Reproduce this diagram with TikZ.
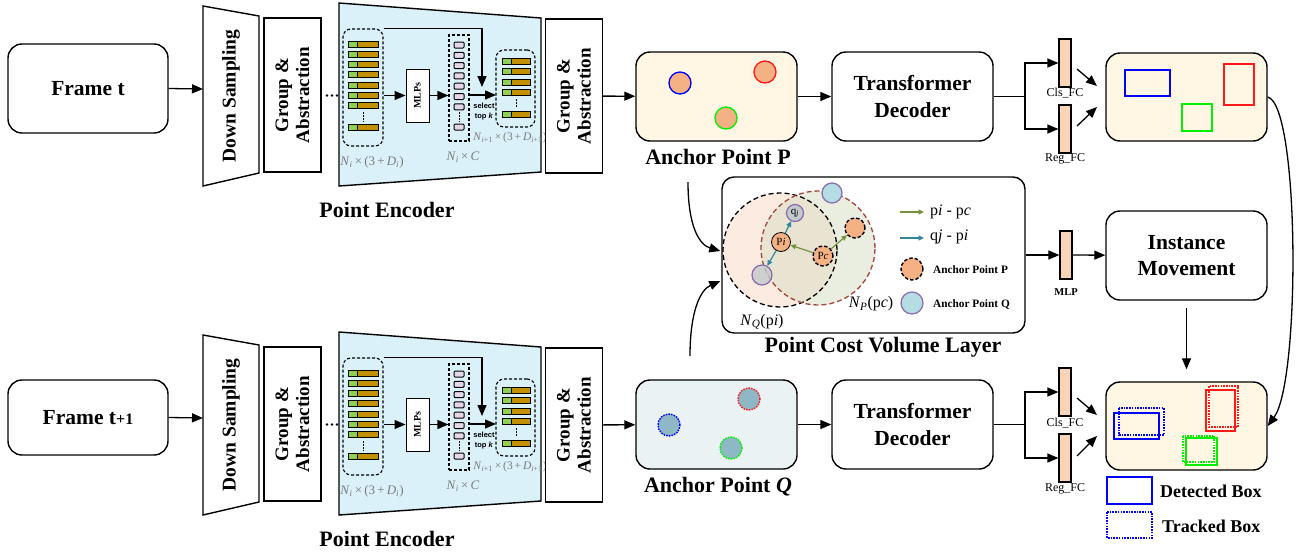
\documentclass[tikz,border=0pt]{standalone}
\usepackage{fontspec}
\setmainfont{Liberation Serif}
\setsansfont{Liberation Sans}
\usetikzlibrary{arrows.meta,calc}

\definecolor{encblue}{HTML}{DAF1FA}
\definecolor{cream}{HTML}{FFF6E3}
\definecolor{orangept}{HTML}{F4B183}
\definecolor{qbox}{HTML}{EAF2F4}
\definecolor{qpt}{HTML}{8EB8C6}
\definecolor{peach}{HTML}{F9D4B6}
\definecolor{barg}{HTML}{8ED150}
\definecolor{bargold}{HTML}{C39100}
\definecolor{pinksq}{HTML}{E4D8E8}
\definecolor{lblgray}{HTML}{7A7A7A}
\definecolor{nqfill}{HTML}{FCEBE0}
\definecolor{npfill}{HTML}{D5DEC4}
\definecolor{darkred}{HTML}{A4453C}
\definecolor{olive}{HTML}{76923C}
\definecolor{tealc}{HTML}{31859C}
\definecolor{purp}{HTML}{8A6AAE}
\definecolor{graypt}{HTML}{C3CACB}
\definecolor{lbluept}{HTML}{B5DDE4}
\definecolor{pureblue}{HTML}{0000FF}
\definecolor{purered}{HTML}{FF1A1A}
\definecolor{puregreen}{HTML}{00F000}

\tikzset{
  arr/.style={-{Triangle[length=11pt,width=9pt]}, line width=1.3pt},
  sarr/.style={-{Triangle[length=5.5pt,width=5pt]}, line width=1.2pt},
  rbox/.style={draw, line width=1.4pt, rounded corners=14pt, align=center, inner sep=0pt,
    font=\bfseries\fontsize{21.5}{27}\selectfont},
  gabox/.style={draw, line width=1.4pt, fill=white, rotate=90, align=center, inner sep=0pt,
    minimum width=154pt, minimum height=57pt, font=\bfseries\fontsize{19}{21}\selectfont},
  fcbar/.style={draw, line width=1.2pt, fill=peach, minimum width=12pt, minimum height=48pt, inner sep=0pt},
  dashbox/.style={draw, dash pattern=on 3pt off 2pt, line width=1.1pt, inner sep=0pt},
  barline/.style={draw=black, line width=1pt},
  mlbl/.style={text=lblgray, inner sep=0pt},
  captxt/.style={font=\bfseries\fontsize{22}{24}\selectfont, inner sep=0pt},
  fctxt/.style={font=\fontsize{12}{12}\selectfont, inner sep=0pt},
  pt/.style={circle, inner sep=0pt, minimum size=20pt, line width=1.2pt},
  dpt/.style={pt, draw=black, dash pattern=on 3.5pt off 2pt, line width=1.4pt},
  dotc/.style={dash pattern=on 1.6pt off 1.1pt, line width=1.4pt},
  lgt/.style={font=\bfseries\fontsize{11.3}{12}\selectfont, inner sep=0pt, anchor=west},
}

\newcommand{\encrow}[2]{%
\begin{scope}[shift={(0,#1)}]
  % down sampling
  \draw[line width=1.4pt, fill=white] (203,6) -- (259,16) -- (259,173) -- (203,186) -- cycle;
  \node[rotate=90, inner sep=0pt, font=\bfseries\fontsize{19.5}{20}\selectfont] (#2ds) at (231,96) {Down Sampling};
  \coordinate (#2dsin) at (203,89);
  \node[gabox] (#2ga) at (292.5,95) {Group \&\\Abstraction};
  \foreach \xx in {327,332,337} \fill (\xx,95.5) circle (1.3pt);
  % encoder
  \draw[line width=1.4pt, fill=encblue] (339,3) -- (541,18) -- (541,172) -- (339,186) -- cycle;
  \node[dashbox, rounded corners=8pt, minimum width=40pt, minimum height=117pt] (#2r1) at (363,87.5) {};
  \foreach \yy in {44,54.3,64.6,74.9,85.2,95.5,105.8,127}{
    \draw[barline, fill=barg] (348,\yy-3) rectangle (357,\yy+3);
    \draw[barline, fill=bargold] (357,\yy-3) rectangle (378,\yy+3);
  }
  \draw[line width=1pt, dash pattern=on 1.5pt off 1.5pt] (363,112) -- (363,122);
  \node[draw, line width=1pt, fill=white, rotate=90, minimum width=53pt, minimum height=23pt, inner sep=0pt,
        font=\bfseries\fontsize{10}{10}\selectfont] (#2mlp) at (417.5,95.5) {MLPs};
  \node[dashbox, minimum width=20pt, minimum height=106pt] (#2r2) at (459,88) {};
  \foreach \yy in {45,55.3,65.6,75.9,86.2,96.5,106.8,127}{
    \draw[barline, fill=pinksq, rounded corners=1pt] (454,\yy-3) rectangle (464,\yy+3);
  }
  \draw[line width=1pt, dash pattern=on 1.5pt off 1.5pt] (459,112) -- (459,122);
  \node[dashbox, rounded corners=8pt, minimum width=39pt, minimum height=77pt] (#2r3) at (515.5,88.5) {};
  \foreach \yy in {61,71.5,82,92.5,114}{
    \draw[barline, fill=barg] (502,\yy-3) rectangle (511,\yy+3);
    \draw[barline, fill=bargold] (511,\yy-3) rectangle (530,\yy+3);
  }
  \draw[line width=1pt, dash pattern=on 1.5pt off 1.5pt] (516,99) -- (516,108);
  \coordinate (#2dn) at (482,87);
  \coordinate (#2hz) at (496,95);
  \draw[arr] (#2r1.east |- #2mlp.center) -- (#2mlp.north);
  \draw[arr] (#2mlp.south) -- (#2mlp.south -| #2r2.west);
  \draw[arr] (#2r1.north east) -| (#2dn);
  \draw[arr] (#2r2.east |- #2hz) -- (#2hz);
  \node[inner sep=0pt, align=center, font=\sffamily\bfseries\fontsize{7.5}{10}\selectfont] (#2sel) at (484,112) {select\\top \textit{k}};
  \node[mlbl, font=\fontsize{13}{13}\selectfont] (#2l1) at (372,162) {\textit{N}\textsubscript{\textit{i}}\,×\,(3\,+\,\textit{D}\textsubscript{\textit{i}})};
  \node[mlbl, font=\fontsize{13}{13}\selectfont] (#2l2) at (463,157) {\textit{N}\textsubscript{\textit{i}}\,×\,\textit{C}};
  \node[mlbl, font=\fontsize{11.5}{12}\selectfont] (#2l3) at (510,138) {\textit{N}\textsubscript{\textit{i}+1}\,×\,(3\,+\,\textit{D}\textsubscript{\textit{i}+1})};
  \node[gabox] (#2gb) at (574,96) {Group \&\\Abstraction};
  \node[captxt] (#2lab) at (387,210) {Point Encoder};
\end{scope}}

\begin{document}
\begin{tikzpicture}[x=1pt,y=-1pt]
\fill[white] (0,0) rectangle (1302,555);
\useasboundingbox (0,0) rectangle (1302,555);

% ---------- frames ----------
\node[rbox, minimum width=160pt, minimum height=89pt] (f1) at (88,88.5) {Frame t};
\node[rbox, minimum width=160pt, minimum height=75pt] (f2) at (88,417.5) {Frame t{\fontsize{16}{16}\selectfont+1}};

\encrow{0}{a}
\encrow{329}{b}

\draw[arr] (f1.east) -- (adsin);
\draw[arr] (f2.east) -- (bdsin);

% ---------- anchor boxes ----------
\node[rbox, fill=cream, minimum width=161pt, minimum height=89pt] (apbox) at (716.5,96.5) {};
\node[pt, minimum size=22pt, fill=orangept, draw=pureblue, line width=1.3pt] (ap1) at (680,83) {};
\node[pt, minimum size=22pt, fill=orangept, draw=purered, line width=1.3pt] (ap2) at (765,72) {};
\node[pt, minimum size=22pt, fill=orangept, draw=puregreen, line width=1.3pt] (ap3) at (726,118) {};
\node[captxt] (aplab) at (718,157) {Anchor Point P};

\node[rbox, fill=qbox, minimum width=161pt, minimum height=89pt] (aqbox) at (716.5,424.5) {};
\node[pt, minimum size=22pt, fill=qpt, draw=pureblue, dotc] (aq1) at (669,425) {};
\node[pt, minimum size=22pt, fill=qpt, draw=purered, dotc] (aq2) at (749,399) {};
\node[pt, minimum size=22pt, fill=qpt, draw=puregreen, dotc] (aq3) at (731,448) {};
\node[captxt] (aqlab) at (718,487) {Anchor Point \textit{Q}};

\draw[arr] (agb) -- (apbox);
\draw[arr] (bgb) -- (aqbox);

% ---------- transformer decoders ----------
\node[rbox, minimum width=161pt, minimum height=89pt] (td1) at (912.5,96.5) {Transformer\\Decoder};
\node[rbox, minimum width=161pt, minimum height=89pt] (td2) at (912.5,424.5) {Transformer\\Decoder};
\draw[arr] (apbox) -- (td1);
\draw[arr] (aqbox) -- (td2);

% ---------- FC heads ----------
\node[fcbar] (cls1) at (1065,63) {};
\node[fcbar] (reg1) at (1065,129) {};
\node[fctxt] (cls1l) at (1065,93) {Cls\_FC};
\node[fctxt] (reg1l) at (1065,159) {Reg\_FC};
\coordinate (sp1) at (1025,96.5);
\draw[line width=1.3pt] (td1.east) -- (sp1);
\draw[arr] (sp1) |- (cls1.west);
\draw[arr] (sp1) |- (reg1.west);

\node[fcbar] (cls2) at (1065,392) {};
\node[fcbar] (reg2) at (1065,458) {};
\node[fctxt] (cls2l) at (1065,423) {Cls\_FC};
\node[fctxt] (reg2l) at (1065,489) {Reg\_FC};
\coordinate (sp2) at (1025,424.5);
\draw[line width=1.3pt] (td2.east) -- (sp2);
\draw[arr] (sp2) |- (cls2.west);
\draw[arr] (sp2) |- (reg2.west);

% ---------- result boxes ----------
\node[rbox, fill=cream, minimum width=161pt, minimum height=88pt] (res1) at (1186.5,97) {};
\draw[pureblue, line width=1.5pt] (1125,70) rectangle (1170,96);
\draw[puregreen, line width=1.5pt] (1182,104) rectangle (1212,131);
\draw[purered, line width=1.5pt] (1224,64) rectangle (1254,105);

\node[rbox, fill=cream, minimum width=161pt, minimum height=88pt] (res2) at (1186.5,426) {};
\draw[pureblue, line width=1.5pt] (1114,413) rectangle (1159,439);
\draw[pureblue, dotc] (1119,408) rectangle (1164,435);
\draw[purered, line width=1.5pt] (1206,390) rectangle (1235,431);
\draw[purered, dotc] (1209,386) rectangle (1238,427);
\draw[puregreen, line width=1.5pt] (1186,438) rectangle (1217,465);
\draw[puregreen, dotc] (1183,436) rectangle (1214,462);

\coordinate (c1s) at (1077,69);  \coordinate (c1e) at (1097,86);
\coordinate (r1s) at (1077,126); \coordinate (r1e) at (1097,107);
\coordinate (c2s) at (1077,398); \coordinate (c2e) at (1097,415);
\coordinate (r2s) at (1077,456); \coordinate (r2e) at (1097,436);
\draw[arr] (c1s) -- (c1e);
\draw[arr] (r1s) -- (r1e);
\draw[arr] (c2s) -- (c2e);
\draw[arr] (r2s) -- (r2e);

\draw[arr] (res1.east) .. controls +(32,8) and +(33,-45) .. (res2.east);

% legend
\draw[pureblue, line width=1.5pt] (1107,477) rectangle (1152,504);
\draw[pureblue, dotc] (1107,512) rectangle (1152,538);
\node[inner sep=0pt, anchor=west, font=\bfseries\fontsize{18}{18}\selectfont] (lgdet) at (1160,491) {Detected Box};
\node[inner sep=0pt, anchor=west, font=\bfseries\fontsize{18}{18}\selectfont] (lgtrk) at (1162,526) {Tracked Box};

% ---------- point cost volume layer ----------
\node[rbox, rounded corners=12pt, minimum width=303pt, minimum height=156pt] (pcv) at (873.5,255) {};
\node[captxt] (pcvlab) at (883,347) {Point Cost Volume Layer};

\fill[nqfill] (780,250) circle (57pt);
\fill[npfill, fill opacity=0.5] (818,248) circle (57pt);
\draw[black, dash pattern=on 5pt off 3pt, line width=1.3pt] (780,250) circle (57pt);
\draw[darkred, dash pattern=on 5pt off 3pt, line width=1.3pt] (818,248) circle (57pt);

\node[pt, minimum size=17pt, fill=graypt, draw=purp, font=\fontsize{11}{11}\selectfont] (qj) at (795,213) {q\textsubscript{\textit{j}}};
\node[pt, minimum size=19pt, fill=orangept, draw=black, line width=0.8pt, font=\fontsize{11}{11}\selectfont] (pi) at (781,242) {P\textit{i}};
\node[dpt, minimum size=20pt, fill=orangept, font=\fontsize{11}{11}\selectfont] (pc) at (823,256) {P\textit{c}};
\node[dpt, minimum size=20pt, fill=orangept] (pn) at (855,228) {};
\node[pt, minimum size=20pt, fill=lbluept, draw=purp] (qa) at (832,193) {};
\node[pt, minimum size=20pt, fill=graypt, fill opacity=0.8, draw=purp, draw opacity=1] (qb) at (762,275) {};

\draw[sarr, olive] (pc) -- (pi);
\draw[sarr, olive] (pc) -- (pn);
\draw[sarr, tealc] (pi) -- (qj);
\draw[sarr, tealc] (pi) -- (qb);

\node[inner sep=0pt, font=\fontsize{16}{16}\selectfont] (nql) at (762,322) {\textit{N}\textsubscript{\textit{Q}}(p\textit{i})};
\node[inner sep=0pt, font=\fontsize{16}{16}\selectfont] (npl) at (871,304) {\textit{N}\textsubscript{\textit{P}}(p\textit{c})};

% legend inside
\coordinate (lg1s) at (900,212); \coordinate (lg1e) at (924,212);
\coordinate (lg2s) at (900,238); \coordinate (lg2e) at (924,238);
\draw[sarr, olive] (lg1s) -- (lg1e);
\draw[sarr, tealc] (lg2s) -- (lg2e);
\node[inner sep=0pt, anchor=west, font=\fontsize{16}{16}\selectfont] (lg1t) at (930,212) {p\textit{i} - p\textit{c}};
\node[inner sep=0pt, anchor=west, font=\fontsize{16}{16}\selectfont] (lg2t) at (930,237) {q\textit{j} - p\textit{i}};
\node[dpt, minimum size=22pt, fill=orangept] (lgp) at (912,269) {};
\node[pt, minimum size=22pt, fill=lbluept, draw=purp] (lgq) at (912,303) {};
\node[lgt] (lgpt) at (933,270) {Anchor Point P};
\node[lgt] (lgqt) at (933,304) {Anchor Point Q};

% inputs to PCV
\coordinate (pin1) at (688,182);
\coordinate (pin2) at (690,356);
\draw[arr] (pin1) .. controls (688,228) and (700,245) .. ($(pcv.west)+(-1,-4)$);
\draw[arr] (pin2) .. controls (690,312) and (700,290) .. ($(pcv.west)+(-1,26)$);

% ---------- MLP and instance movement ----------
\node[fcbar] (mlp) at (1066,255) {};
\node[inner sep=0pt, font=\bfseries\fontsize{10.5}{11}\selectfont] (mlpl) at (1066,292) {MLP};
\node[rbox, minimum width=161pt, minimum height=89pt, font=\bfseries\fontsize{21.5}{26}\selectfont] (im) at (1186.5,255.5) {Instance\\Movement};
\draw[arr] (pcv) -- (mlp);
\draw[arr] (mlp) -- (im);
\draw[arr] ($(im.south)+(0,7)$) -- ($(res2.north)+(0,-12)$);

\end{tikzpicture}
\end{document}
